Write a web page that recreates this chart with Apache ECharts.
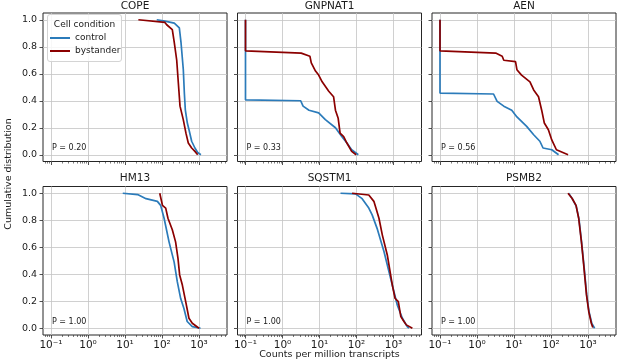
<!DOCTYPE html>
<html>
<head>
<meta charset="utf-8">
<script src="https://cdn.jsdelivr.net/npm/echarts@6/dist/echarts.min.js"></script>
<style>
  html, body { margin: 0; padding: 0; background: #fff; }
  #chart { width: 617px; height: 362px; }
</style>
</head>
<body>
<div id="chart"></div>
<script>
const genes = ['COPE', 'GNPNAT1', 'AEN', 'HM13', 'SQSTM1', 'PSMB2'];
const pValues = ['0.20', '0.33', '0.56', '1.00', '1.00', '1.00'];

// [counts per million, cumulative fraction]
const copeControl = [[72, 1.0], [120, 0.99], [215, 0.975], [294, 0.94], [327, 0.83], [377, 0.63], [402, 0.457], [427, 0.333], [484, 0.235], [537, 0.185], [634, 0.1], [776, 0.05], [922, 0.017], [1125, 0]];
const copeBystander = [[23, 1.0], [120, 0.98], [134, 0.963], [190, 0.926], [215, 0.83], [250, 0.7], [277, 0.53], [307, 0.36], [376, 0.26], [444, 0.16], [514, 0.087], [634, 0.05], [776, 0.025], [922, 0]];
const gnpnat1Control = [[0.1, 1.0], [0.1, 0.407], [3.1, 0.4], [3.6, 0.36], [5.2, 0.33], [9.5, 0.31], [14.4, 0.26], [27, 0.2], [40, 0.135], [55, 0.087], [74, 0.037], [112, 0]];
const gnpnat1Bystander = [[0.1, 1.0], [0.1, 0.77], [3.2, 0.753], [5.5, 0.73], [6.0, 0.68], [7.8, 0.62], [9.5, 0.59], [11.8, 0.54], [17.8, 0.47], [24, 0.43], [27, 0.33], [32, 0.27], [36, 0.16], [45, 0.135], [55, 0.087], [74, 0.025], [98, 0]];
const aenControl = [[0.1, 1.0], [0.1, 0.457], [2.8, 0.45], [3.5, 0.395], [5.3, 0.36], [8.7, 0.33], [12, 0.28], [22, 0.21], [34, 0.148], [50, 0.1], [61, 0.05], [105, 0.037], [160, 0]];
const aenBystander = [[0.1, 1.0], [0.1, 0.77], [3.2, 0.753], [4.8, 0.73], [5.3, 0.7], [11, 0.69], [12, 0.63], [16, 0.59], [27, 0.54], [34, 0.48], [46, 0.43], [56, 0.33], [66, 0.235], [85, 0.185], [105, 0.11], [140, 0.037], [290, 0]];
const hm13Control = [[8.7, 1.0], [22, 0.99], [37, 0.96], [75, 0.94], [92, 0.91], [114, 0.815], [155, 0.64], [213, 0.49], [259, 0.345], [320, 0.22], [390, 0.148], [480, 0.05], [660, 0.012], [1100, 0]];
const hm13Bystander = [[87, 1.0], [103, 0.91], [126, 0.89], [145, 0.815], [190, 0.73], [233, 0.64], [270, 0.52], [300, 0.395], [355, 0.32], [437, 0.197], [535, 0.074], [660, 0.037], [1000, 0]];
const sqstm1Control = [[37, 1.0], [94, 0.995], [142, 0.96], [215, 0.89], [265, 0.84], [360, 0.74], [555, 0.567], [835, 0.37], [1270, 0.17], [1740, 0.074], [2350, 0.012], [2620, 0]];
const sqstm1Bystander = [[76, 1.0], [215, 0.987], [295, 0.94], [405, 0.815], [500, 0.69], [680, 0.543], [930, 0.32], [1100, 0.222], [1350, 0.197], [1580, 0.086], [1920, 0.05], [2220, 0.025], [3240, 0]];
const psmb2Control = [[300, 1.0], [375, 0.96], [480, 0.905], [570, 0.81], [670, 0.64], [775, 0.47], [930, 0.24], [1070, 0.12], [1270, 0.035], [1510, 0]];
const psmb2Bystander = [[288, 1.0], [370, 0.963], [475, 0.91], [560, 0.815], [665, 0.64], [765, 0.47], [910, 0.247], [1050, 0.123], [1230, 0.037], [1350, 0.005]];

const controlData = [copeControl, gnpnat1Control, aenControl, hm13Control, sqstm1Control, psmb2Control];
const bystanderData = [copeBystander, gnpnat1Bystander, aenBystander, hm13Bystander, sqstm1Bystander, psmb2Bystander];

const xTicks = [0.1, 1, 10, 100, 1000];
const xTickLabels = ['10⁻¹', '10⁰', '10¹', '10²', '10³'];
const yTicks = [0, 0.2, 0.4, 0.6, 0.8, 1.0];

const font = 'DejaVu Sans';
const ink = '#1a1a1a';
const blue = '#2b7bba';
const red = '#8b0000';
const xMin = 0.0608, xMax = 5715;

// minor tick positions 2..9 x 10^k
const minorTicks = [];
for (let k = -2; k <= 3; k++) {
  for (let m = 2; m <= 9; m++) {
    const v = m * Math.pow(10, k);
    if (v > xMin && v < xMax) minorTicks.push(v);
  }
}

const lefts = [43, 237.5, 432];
const tops = [13, 186.5];
const panelW = 184, panelH = 148.5;

const grids = [], xAxes = [], yAxes = [], series = [], graphics = [];
genes.forEach((gene, i) => {
  const col = i % 3, row = Math.floor(i / 3);
  grids.push({
    left: lefts[col], top: tops[row], width: panelW, height: panelH,
    show: true, borderColor: '#262626', borderWidth: 1
  });
  xAxes.push({
    type: 'log', logBase: 10, gridIndex: i, min: xMin, max: xMax, position: 'bottom',
    axisLine: { show: false, onZero: false },
    axisTick: { show: true, length: 3.5, customValues: xTicks, lineStyle: { color: '#262626', width: 0.8 } },
    axisLabel: {
      show: row === 1, customValues: xTicks, margin: 5, fontSize: 10.5, fontFamily: font, color: ink,
      formatter: (v) => xTickLabels[Math.round(Math.log10(v)) + 1]
    },
    splitLine: { show: true, lineStyle: { color: '#c4c4c4', width: 0.8 } }
  });
  xAxes.push({
    type: 'log', logBase: 10, gridIndex: i, min: xMin, max: xMax, position: 'bottom',
    axisLine: { show: false, onZero: false },
    axisTick: { show: true, length: 2, customValues: minorTicks, lineStyle: { color: '#262626', width: 0.6 } },
    axisLabel: { show: false },
    splitLine: { show: false }
  });
  yAxes.push({
    type: 'value', gridIndex: i, min: -0.05, max: 1.05,
    axisLine: { show: false, onZero: false },
    axisTick: { show: true, length: 3.5, customValues: yTicks, lineStyle: { color: '#262626', width: 0.8 } },
    axisLabel: {
      show: col === 0, customValues: yTicks, margin: 6, fontSize: 9.5, fontFamily: font, color: ink,
      formatter: (v) => v.toFixed(1)
    },
    splitLine: { show: true, lineStyle: { color: '#c4c4c4', width: 0.8 } }
  });
  series.push({
    name: 'control', type: 'line', xAxisIndex: 2 * i, yAxisIndex: i,
    data: controlData[i], showSymbol: false, symbol: 'none',
    lineStyle: { color: blue, width: 1.7 }, itemStyle: { color: blue }
  });
  series.push({
    name: 'bystander', type: 'line', xAxisIndex: 2 * i, yAxisIndex: i,
    data: bystanderData[i], showSymbol: false, symbol: 'none',
    lineStyle: { color: red, width: 1.7 }, itemStyle: { color: red }
  });
  graphics.push({
    type: 'text', x: lefts[col] + panelW / 2, y: row === 0 ? 6 : 178.5,
    style: { text: gene, fontSize: 10.5, fontFamily: font, fill: ink, align: 'center', verticalAlign: 'middle' }
  });
  graphics.push({
    type: 'text', x: lefts[col] + 9, y: row === 0 ? 148 : 321.5, z: 5,
    style: { text: 'P = ' + pValues[i], fontSize: 8, fontFamily: font, fill: ink, align: 'left', verticalAlign: 'middle' }
  });
});

// legend frame + title
graphics.push({
  type: 'rect', z: 10,
  shape: { x: 47.5, y: 14.5, width: 74, height: 47, r: 2.5 },
  style: { fill: 'rgba(255,255,255,0.85)', stroke: '#d4d4d4', lineWidth: 1 }
});
graphics.push({
  type: 'text', z: 11, x: 84.5, y: 25,
  style: { text: 'Cell condition', fontSize: 9, fontFamily: font, fill: ink, align: 'center', verticalAlign: 'middle' }
});
graphics.push({
  type: 'text', x: 9, y: 174, rotation: Math.PI / 2,
  style: { text: 'Cumulative distribution', fontSize: 9.5, fontFamily: font, fill: ink, align: 'center', verticalAlign: 'middle' }
});
graphics.push({
  type: 'text', x: 329.5, y: 354.5,
  style: { text: 'Counts per million transcripts', fontSize: 9.5, fontFamily: font, fill: ink, align: 'center', verticalAlign: 'middle' }
});

const chart = echarts.init(document.getElementById('chart'), null, { renderer: 'canvas' });
chart.setOption({
  animation: false,
  backgroundColor: '#fff',
  grid: grids,
  xAxis: xAxes,
  yAxis: yAxes,
  series: series,
  legend: {
    data: ['control', 'bystander'], orient: 'vertical', left: 50, top: 32.5, padding: 0,
    icon: 'rect', itemWidth: 20, itemHeight: 2, itemGap: 2, selectedMode: false, z: 20,
    textStyle: { fontSize: 9, lineHeight: 11, fontFamily: font, color: ink }
  },
  graphic: graphics
});
</script>
</body>
</html>
